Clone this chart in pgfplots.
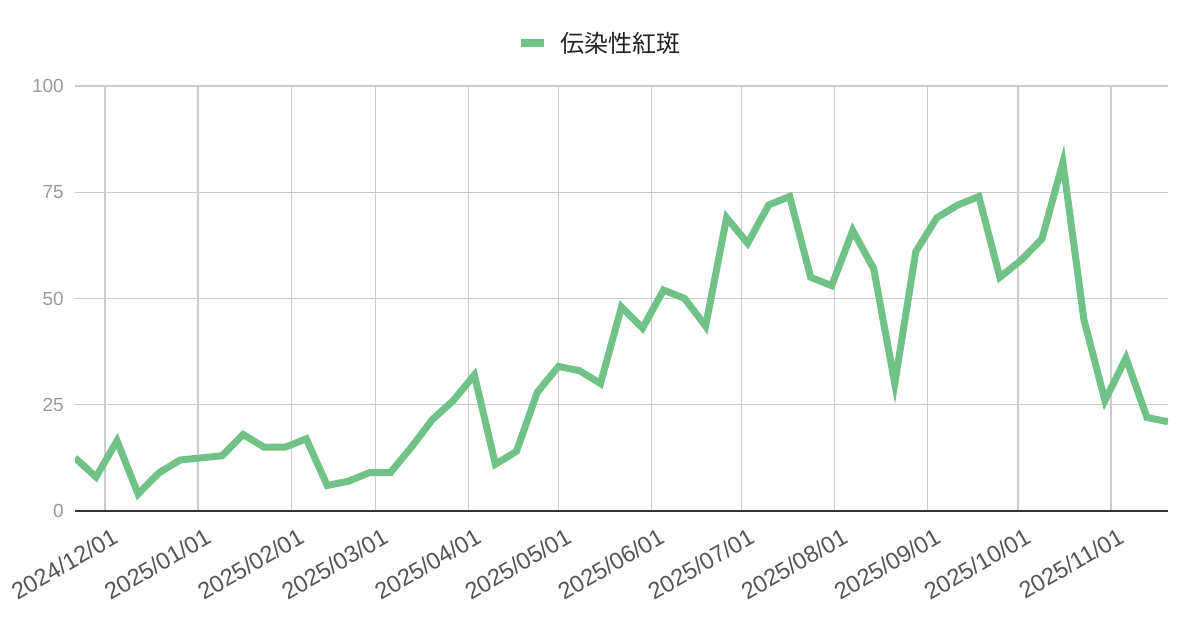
\documentclass[border=0pt]{standalone}
\usepackage{fontspec}
\setmainfont{Liberation Sans}
\newfontfamily\cjk{Noto Sans CJK JP}
\usepackage{pgfplots}
\pgfplotsset{compat=1.18}

\definecolor{linegreen}{HTML}{71C287}
\definecolor{gridgray}{HTML}{CCCCCC}
\definecolor{basegray}{HTML}{333333}
\definecolor{ylabgray}{HTML}{999999}
\definecolor{xlabgray}{HTML}{555555}
\definecolor{legtext}{HTML}{222222}

\begin{document}
\begin{tikzpicture}[x=1pt,y=1pt]
  \useasboundingbox (0,0) rectangle (1200,626);
  \begin{axis}[
      at={(75pt,115pt)}, anchor=south west,
      scale only axis,
      width=1093pt, height=425pt,
      xmin=-10, xmax=354,
      ymin=0, ymax=100,
      ytick={0,25,50,75,100},
      xtick={0,31,62,90,121,151,182,212,243,274,304,335},
      xticklabels={2024/12/01,2025/01/01,2025/02/01,2025/03/01,2025/04/01,2025/05/01,
                   2025/06/01,2025/07/01,2025/08/01,2025/09/01,2025/10/01,2025/11/01},
      /pgf/number format/assume math mode=true,
      grid=major,
      major grid style={draw=gridgray, line width=1.3pt},
      axis line style={draw=none},
      major tick length=0pt,
      tick style={draw=none},
      yticklabel style={
        font=\fontsize{19}{22}\selectfont, text=ylabgray,
        anchor=east, inner sep=0pt, xshift=-11pt
      },
      xticklabel style={
        font=\fontsize{23.5}{27}\selectfont, text=xlabgray,
        inner sep=0pt, xshift=6pt, yshift=-16pt,
        rotate=30, anchor=north east
      },
      legend style={
        at={(0.4803,1.101)}, anchor=center,
        draw=none, fill=none,
        font=\cjk\fontsize{24}{28}\selectfont,
        text=legtext,
        /tikz/every odd column/.append style={column sep=10pt},
      },
      legend cell align=left,
      legend image code/.code={
        \draw[line width=8pt, linegreen] (0pt,0pt) -- (23pt,0pt);
      },
    ]
    % weekly counts, day 0 = 2024/12/01
    \addplot[linegreen, line width=7pt, mark=none] coordinates {
      (-10,12.5) (-3,8) (4,16.5) (11,4) (18,9) (25,12) (32,12.5) (39,13)
      (46,18) (53,15) (60,15) (67,17) (74,6) (81,7) (88,9) (95,9)
      (102,15) (109,21.5) (116,26) (123,32) (130,11) (137,14) (144,28) (151,34)
      (158,33) (165,30) (172,48) (179,43) (186,52) (193,50) (200,43.5) (207,69)
      (214,63) (221,72) (228,74) (235,55) (242,53) (249,66) (256,57) (263,30)
      (270,61) (277,69) (284,72) (291,74) (298,55) (305,59) (312,64) (319,82)
      (326,45) (333,26) (340,36) (347,22) (354,21)
    };
    \addlegendentry{伝染性紅斑}
  \end{axis}
  \draw[basegray, line width=2.5pt] (75,115) -- (1168,115);
\end{tikzpicture}
\end{document}
